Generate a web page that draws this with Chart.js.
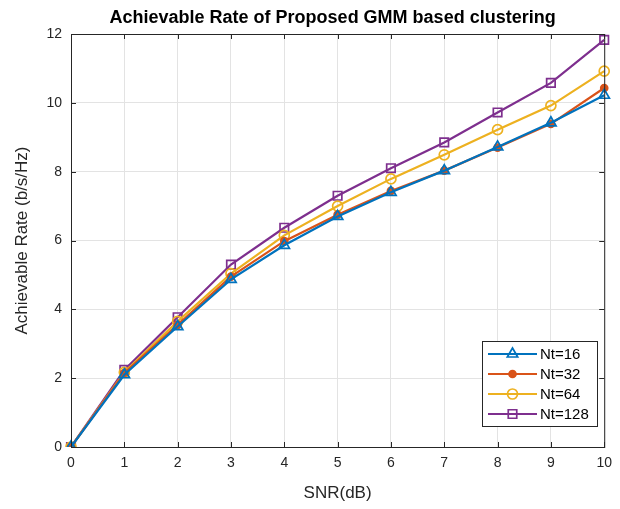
<!DOCTYPE html>
<html>
<head>
<meta charset="utf-8">
<script src="https://cdn.jsdelivr.net/npm/chart.js@4"></script>
<style>
body{margin:0;background:#fff;}
#wrap{width:620px;height:509px;}
</style>
</head>
<body>
<div id="wrap"><canvas id="c" width="620" height="509"></canvas></div>
<script>
const snr = [0,1,2,3,4,5,6,7,8,9,10];
const nt16  = [0,2.1,3.5,4.87,5.86,6.7,7.4,8.03,8.72,9.42,10.22];
const nt32  = [0,2.15,3.55,4.95,5.98,6.75,7.44,8.03,8.7,9.39,10.43];
const nt64  = [0,2.17,3.65,5.04,6.15,7.0,7.79,8.49,9.22,9.92,10.92];
const nt128 = [0,2.24,3.77,5.3,6.37,7.3,8.1,8.85,9.72,10.58,11.83];
const yTicks = [0,2,4,6,8,10,12];
const seriesNames = ["Nt=16","Nt=32","Nt=64","Nt=128"];
const chartTitle = "Achievable Rate of Proposed GMM based clustering";

const FONT = "'Liberation Sans', Arial, sans-serif";
const AX = "#262626";

function ds(label, data, color, style, radius, fill){
  return {
    label, data, borderColor:color, borderWidth:2.2, tension:0,
    pointStyle:style, pointRadius:radius, pointHoverRadius:radius,
    pointBorderColor:color, pointBorderWidth:1.7,
    pointBackgroundColor: fill ? color : "rgba(0,0,0,0)"
  };
}

function marker(ctx, d, x, y){
  const r = d.pointRadius;
  ctx.fillStyle = d.pointBackgroundColor;
  ctx.strokeStyle = d.borderColor; ctx.lineWidth = 1.7;
  ctx.beginPath();
  if(d.pointStyle==="triangle"){
    const s = r*Math.sqrt(3)/2;
    ctx.moveTo(x,y-r); ctx.lineTo(x+s,y+r/2); ctx.lineTo(x-s,y+r/2); ctx.closePath();
  } else if(d.pointStyle==="rect"){
    const h = r*Math.SQRT1_2;
    ctx.rect(x-h,y-h,2*h,2*h);
  } else {
    ctx.arc(x,y,r,0,Math.PI*2);
  }
  ctx.fill(); ctx.stroke();
}

const frame = {
  id:"frame",
  afterDraw(chart){
    const ctx = chart.ctx, a = chart.chartArea;
    const xs = chart.scales.x, ys = chart.scales.y;
    ctx.save();
    ctx.strokeStyle = AX; ctx.lineWidth = 1;
    ctx.strokeRect(a.left+0.5, a.top+0.5, a.right-a.left, a.bottom-a.top);
    ctx.beginPath();
    snr.forEach((v,i)=>{
      const px = Math.round(xs.getPixelForValue(i))+0.5;
      ctx.moveTo(px,a.bottom); ctx.lineTo(px,a.bottom-5);
      ctx.moveTo(px,a.top); ctx.lineTo(px,a.top+5);
    });
    yTicks.forEach(v=>{
      const py = Math.round(ys.getPixelForValue(v))+0.5;
      ctx.moveTo(a.left,py); ctx.lineTo(a.left+5,py);
      ctx.moveTo(a.right,py); ctx.lineTo(a.right-5,py);
    });
    ctx.stroke();

    // title
    ctx.fillStyle = "#000";
    ctx.font = "bold 18px " + FONT;
    ctx.textAlign = "center"; ctx.textBaseline = "middle";
    ctx.fillText(chartTitle, (a.left+a.right)/2 - 5, 18);

    // legend
    const lx = 482, ly = 341, lw = 115, lh = 85;
    ctx.fillStyle = "#fff";
    ctx.fillRect(lx, ly, lw, lh);
    ctx.strokeStyle = AX; ctx.lineWidth = 1;
    ctx.strokeRect(lx+0.5, ly+0.5, lw, lh);
    ctx.font = "15px " + FONT;
    ctx.textAlign = "left";
    chart.data.datasets.forEach((d,i)=>{
      const y = ly + 13 + i*20;
      ctx.strokeStyle = d.borderColor; ctx.lineWidth = 2.2;
      ctx.beginPath(); ctx.moveTo(lx+6,y); ctx.lineTo(lx+55,y); ctx.stroke();
      marker(ctx, d, lx+30.5, y);
      ctx.fillStyle = "#000";
      ctx.fillText(d.label, lx+58, y+1);
    });
    ctx.restore();
  }
};

new Chart(document.getElementById("c"), {
  type:"line",
  data:{
    labels: snr,
    datasets:[
      ds(seriesNames[0], nt16, "#0072BD", "triangle", 6, false),
      ds(seriesNames[1], nt32, "#D95319", "circle", 3.5, true),
      ds(seriesNames[2], nt64, "#EDB120", "circle", 5, false),
      ds(seriesNames[3], nt128, "#7E2F8E", "rect", 6, false)
    ]
  },
  options:{
    responsive:false, animation:false,
    layout:{padding:{top:34,right:11,bottom:0,left:0}},
    plugins:{legend:{display:false}, title:{display:false}, tooltip:{enabled:false}},
    scales:{
      x:{
        offset:false,
        grid:{color:"#e3e3e3", drawTicks:false},
        border:{display:false},
        ticks:{color:AX, font:{family:FONT,size:14}, padding:8, maxRotation:0},
        title:{display:true, text:"SNR(dB)", color:AX, font:{family:FONT,size:17}, padding:{top:0,bottom:5}},
        afterFit(s){ s.height = 62; }
      },
      y:{
        min:0, max:12,
        afterBuildTicks(s){ s.ticks = yTicks.map(v=>({value:v})); },
        grid:{color:"#e3e3e3", drawTicks:false},
        border:{display:false},
        ticks:{color:AX, font:{family:FONT,size:14}, padding:9},
        title:{display:true, text:"Achievable Rate (b/s/Hz)", color:AX, font:{family:FONT,size:17}, padding:{top:12,bottom:0}},
        afterFit(s){ s.width = 71; }
      }
    }
  },
  plugins:[frame]
});
</script>
</body>
</html>
